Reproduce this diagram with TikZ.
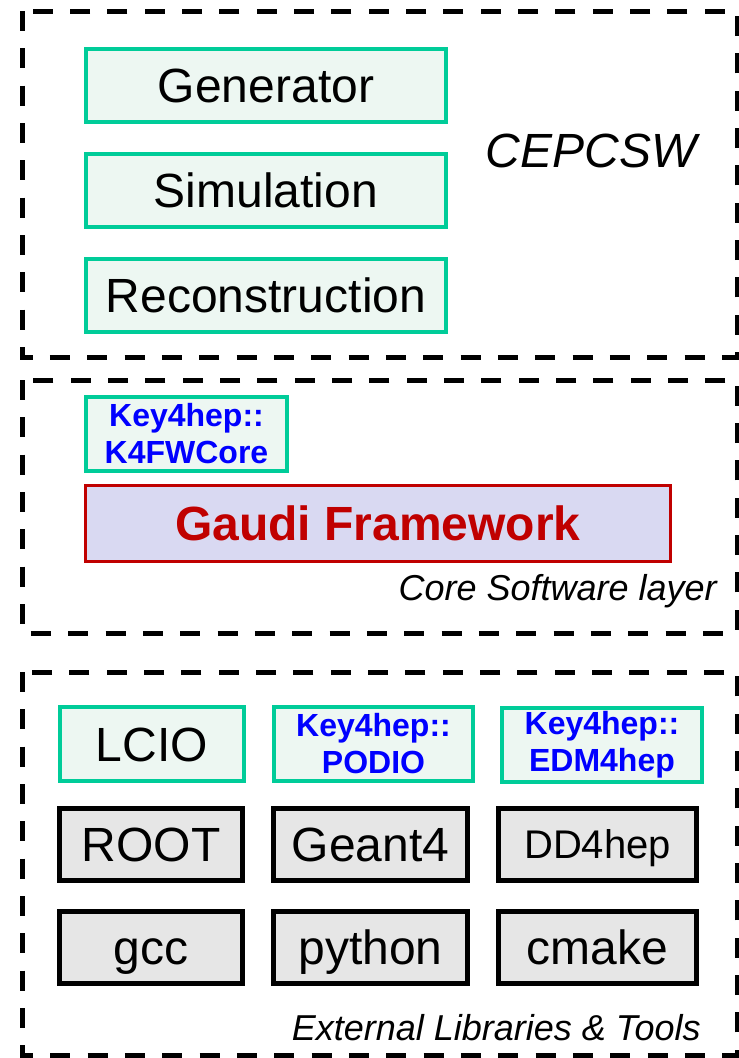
\documentclass[tikz,border=0pt]{standalone}
\usepackage{fontspec}
\setmainfont{Liberation Sans}
\usepackage{tikz}

\definecolor{boxgreen}{RGB}{0,204,153}
\definecolor{boxmint}{RGB}{237,247,242}
\definecolor{gaudired}{RGB}{192,0,0}
\definecolor{gaudifill}{RGB}{217,217,242}
\definecolor{toolgrey}{RGB}{230,230,230}

\tikzset{
  layerbox/.style={draw, line width=3.75pt, dash pattern=on 15pt off 13pt},
  greenbox/.style={draw=boxgreen, fill=boxmint, line width=3pt, inner sep=0pt},
  toolbox/.style={draw=black, fill=toolgrey, line width=3.75pt, inner sep=0pt},
  bigtext/.style={font=\fontsize{36}{40}\selectfont, text height=25.8pt, text depth=0pt},
  keytext/.style={text=blue, align=center, font=\bfseries\fontsize{24}{27.75}\selectfont},
  layerlabel/.style={font=\itshape\fontsize{27}{30}\selectfont, inner sep=0pt}
}

\begin{document}
\begin{tikzpicture}[x=0.75pt,y=0.75pt,yscale=-1,xscale=1]
\useasboundingbox (0,0) rectangle (739,1058);

% CEPCSW layer
\draw [layerbox] (22.6,11) rectangle (737,357) ;
\node [greenbox, bigtext, minimum width=270pt, minimum height=54.75pt] (gen) at (266,85.5) {Generator};
\node [greenbox, bigtext, minimum width=270pt, minimum height=54.75pt] (sim) at (266,190.5) {Simulation};
\node [greenbox, bigtext, minimum width=270pt, minimum height=54.75pt] (rec) at (266,295.5) {Reconstruction};
\node [font=\itshape\fontsize{36}{40}\selectfont] (cepcsw) at (591,151) {CEPCSW};

% Core software layer
\draw [layerbox] (22.6,380) rectangle (737,633) ;
\node [greenbox, keytext, minimum width=150.75pt, minimum height=55.5pt] (k4fw) at (186.5,434) {Key4hep::\\K4FWCore};
\node [draw=gaudired, fill=gaudifill, line width=2.25pt, minimum width=438.75pt, minimum height=57pt, text=gaudired, font=\bfseries\fontsize{36}{40}\selectfont] (gaudi) at (378,523.5) {Gaudi Framework};
\node [layerlabel, anchor=base east] (corelbl) at (717,600) {Core Software layer};

% External libraries and tools
\draw [layerbox] (22.6,672) rectangle (737,1055) ;
\node [greenbox, bigtext, minimum width=138.4pt, minimum height=55.5pt] (lcio) at (152,744) {LCIO};
\node [greenbox, keytext, minimum width=149.25pt, minimum height=55.5pt] (podio) at (373.5,744) {Key4hep::\\PODIO};
\node [greenbox, keytext, minimum width=150pt, minimum height=55.5pt] (edm) at (602,745) {Key4hep::\\EDM4hep};

\node [toolbox, bigtext, minimum width=136.9pt, minimum height=54pt] (root) at (151,844.5) {ROOT};
\node [toolbox, bigtext, minimum width=145.5pt, minimum height=54pt] (geant) at (370.5,844.5) {Geant4};
\node [toolbox, font=\fontsize{30}{34}\selectfont, text height=21.5pt, text depth=0pt, minimum width=148.5pt, minimum height=54pt] (dd4hep) at (597.5,844.5) {DD4hep};

\node [toolbox, bigtext, minimum width=136.9pt, minimum height=54pt] (gcc) at (151,947) {gcc};
\node [toolbox, bigtext, minimum width=145.5pt, minimum height=54pt] (python) at (370.5,947) {python};
\node [toolbox, bigtext, minimum width=148.5pt, minimum height=54pt] (cmake) at (597.5,947) {cmake};

\node [layerlabel, anchor=base east] (extlbl) at (701,1040) {External Libraries \& Tools};

\end{tikzpicture}
\end{document}
